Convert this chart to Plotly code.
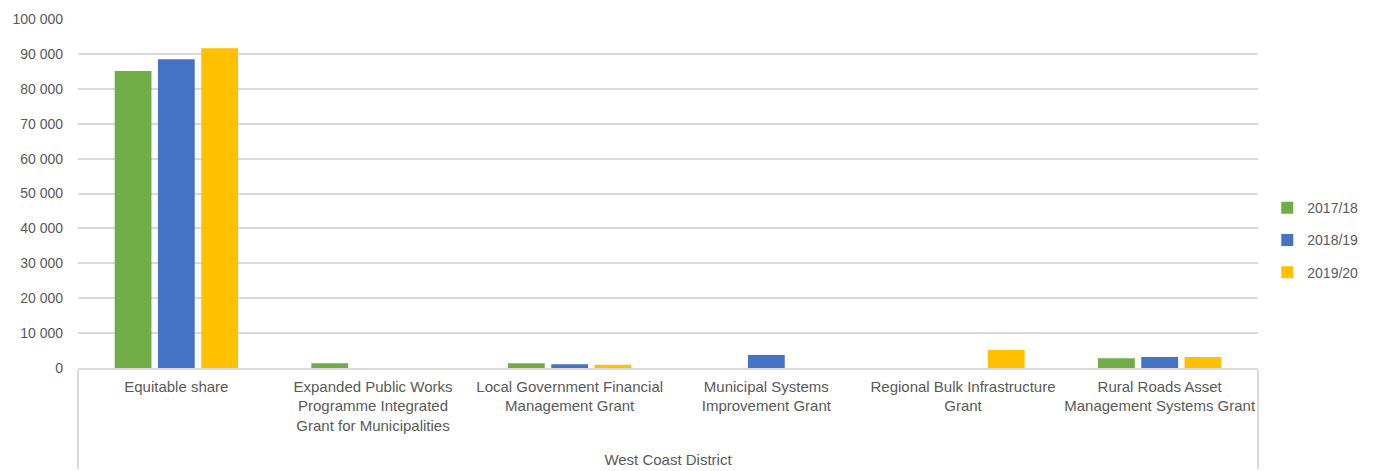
import plotly.graph_objects as go

district = "West Coast District"
categories = [
    "Equitable share",
    "Expanded Public Works<br>Programme Integrated<br>Grant for Municipalities<br>&nbsp;",
    "Local Government Financial<br>Management Grant",
    "Municipal Systems<br>Improvement Grant",
    "Regional Bulk Infrastructure<br>Grant",
    "Rural Roads Asset<br>Management Systems Grant",
]
series_names = ["2017/18", "2018/19", "2019/20"]
values_2017 = [85100, 1350, 1350, 0, 0, 2780]
values_2018 = [88450, 0, 1050, 3700, 0, 3150]
values_2019 = [91600, 0, 950, 0, 5150, 3150]
colors = ["#70ad47", "#4472c4", "#ffc000"]

fig = go.Figure()
for i, (name, vals) in enumerate(zip(series_names, [values_2017, values_2018, values_2019])):
    fig.add_trace(go.Bar(
        x=[[district] * len(categories), categories],
        y=vals,
        name=name,
        marker=dict(color=colors[i], line=dict(width=0)),
        legendgroup=f"g{i}",
    ))

font_color = "#595959"
fig.update_layout(
    width=1373, height=471,
    margin=dict(l=78, r=115, t=19, b=103, autoexpand=False),
    paper_bgcolor="white", plot_bgcolor="white",
    barmode="group", bargap=0.34, bargroupgap=0.15,
    separators=". ",
    font=dict(family="Liberation Sans", size=15, color=font_color),
    showlegend=True,
    legend=dict(xref="container", yref="container", x=0.923, y=0.49,
                xanchor="left", yanchor="middle",
                tracegroupgap=11, font=dict(size=14, color=font_color),
                bgcolor="rgba(0,0,0,0)"),
    yaxis=dict(range=[0, 100000], dtick=10000, tickformat=",d",
               showgrid=True, gridcolor="#d9d9d9", gridwidth=1.5,
               zeroline=False, showline=False, ticks="",
               tickfont=dict(size=14, color=font_color), ticklabelstandoff=14),
    xaxis=dict(type="multicategory", showline=True, linecolor="#d9d9d9", linewidth=1.5,
               showdividers=True, dividercolor="#d9d9d9", dividerwidth=1.5,
               tickangle=0,
               ticks="", tickfont=dict(size=15, color=font_color), ticklabelstandoff=4),
)

fig.write_html("out.html")
